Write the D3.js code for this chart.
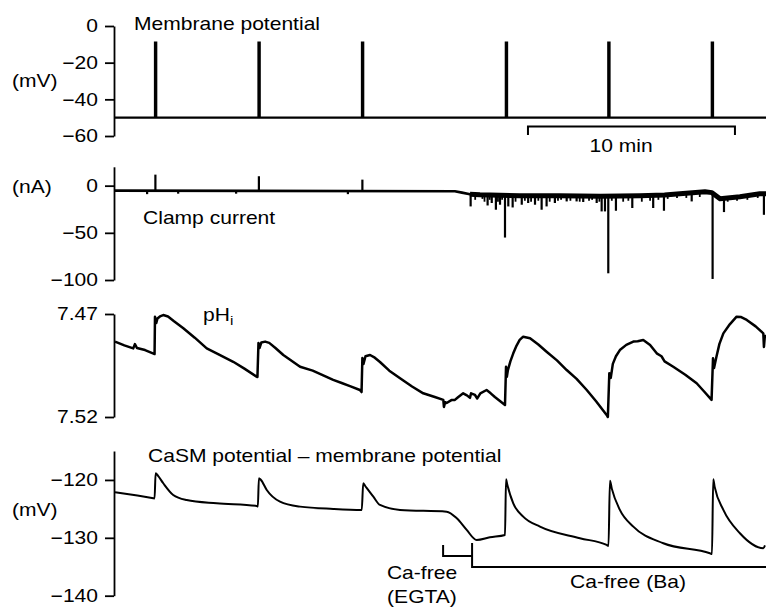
<!DOCTYPE html>
<html>
<head>
<meta charset="utf-8">
<script src="https://cdn.jsdelivr.net/npm/d3@7"></script>
<style>
  body { margin: 0; background: #fff; }
  text { font-family: Arial, "Liberation Sans", sans-serif; font-size: 18px; fill: #000; }
  .trace { fill: none; stroke: #000; stroke-width: 2; stroke-linejoin: round; }
  .axis path, .axis line { stroke: #000; stroke-width: 1.8; }
</style>
</head>
<body>
<svg id="chart" width="766" height="608"></svg>
<script>
// time in minutes
var spikeTimes = [2.0, 7.0, 12.0, 18.95, 23.9, 28.9];
var vmRest = -50, vmPeak = -9;

// clamp current (nA): baseline [t, v], transients [t, v]
var clampBase = [[0,-5.3],[16.47,-5.9],[16.81,-7.4],[17.2,-9.0],[17.68,-9.6],[19.6,-10.6],[21.5,-10.6],
  [23.5,-11.2],[25.4,-10.6],[26.6,-9.8],[27.34,-8.5],[28.55,-6.4],[28.89,-7.4],[29.28,-13.8],[30.24,-11.7],
  [31.2,-8.5],[31.5,-8.5]];
var noisyFrom = 17.1;
var clampUp = [[2.0,11.7],[7.0,10],[12.0,6.4]];
var clampDips = [[1.6,-9],[3.1,-8.5],[5.9,-8.5],[11.3,-9],
  [17.23,-22],[18.05,-21],[18.25,-18.4],[18.45,-25.5],[18.65,-20.2],[18.89,-55],[19.05,-22],[19.26,-23.1],
  [19.7,-20.2],[20.01,-18.4],[20.34,-20.2],[20.66,-25.5],[20.9,-22],[21.3,-18.4],[21.87,-16.7],[22.35,-16.7],
  [22.67,-17.3],[23.32,-18.4],[23.56,-27.3],[23.72,-27.3],[23.88,-92.9],[24.25,-26.6],[25.04,-23.7],
  [26.05,-23.7],[26.57,-26.6],[27.91,-16.7],[28.92,-98.9],[29.47,-28],[31.4,-30.9]];
var clampNoise = [[17.45,-15],[17.8,-14],[17.9,-17],[18.15,-15],[18.55,-17],[18.75,-15],
  [19.4,-17],[19.85,-16],[20.15,-17],[20.5,-16],[21.05,-17],[21.45,-16],[21.6,-15],[22.05,-16],
  [22.5,-17],[22.95,-16],[23.1,-15],[23.45,-17],[24.05,-16],[24.6,-17],[24.85,-16],[25.5,-17],
  [25.9,-16],[26.3,-15],[26.75,-14],[27.2,-13],[27.65,-13],[28.3,-12],[29.65,-17],[30.1,-16],
  [30.6,-15],[31.1,-13]];

// intracellular pH
var phData = [[0.05,7.4834],[0.5,7.4852],[0.93,7.4867],[1.01,7.4846],[1.11,7.4865],[1.5,7.4875],[1.88,7.4891],
  [1.96,7.4894],[1.98,7.4713],[2.04,7.4744],[2.1,7.4722],[2.22,7.4712],[2.38,7.4705],[2.61,7.4712],[2.9,7.4735],
  [3.35,7.4769],[3.9,7.4815],[4.48,7.4867],[5.1,7.4898],[5.76,7.4932],[6.3,7.4965],[6.89,7.5004],
  [6.93,7.5006],[6.98,7.4841],[7.03,7.4865],[7.12,7.4838],[7.3,7.4834],[7.5,7.4840],[7.8,7.4865],[8.18,7.4899],
  [8.99,7.4956],[9.6,7.4975],[10.59,7.5020],[11.0,7.5035],[11.4,7.5050],[11.88,7.5069],[11.96,7.5079],
  [12.0,7.4914],[12.05,7.4943],[12.15,7.4905],[12.37,7.4899],[12.6,7.4912],[12.85,7.4933],[13.3,7.4975],
  [13.82,7.5012],[14.4,7.5052],[14.94,7.5085],[15.5,7.5103],[15.91,7.5117],[15.94,7.5151],[16.0,7.5128],
  [16.07,7.5132],[16.3,7.5118],[16.47,7.5117],[16.62,7.5104],[16.87,7.5085],[17.05,7.5095],[17.2,7.5107],
  [17.25,7.5085],[17.44,7.5093],[17.55,7.5110],[17.7,7.5085],[18.0,7.5069],[18.2,7.5085],[18.4,7.5103],
  [18.89,7.5142],[18.94,7.4956],[18.98,7.5005],[19.03,7.4972],[19.15,7.4930],[19.29,7.4891],[19.45,7.4853],
  [19.6,7.4826],[19.77,7.4810],[20.1,7.4818],[20.5,7.4848],[20.9,7.4883],[21.4,7.4925],[21.87,7.4972],
  [22.35,7.5015],[22.84,7.5069],[23.3,7.5125],[23.8,7.5190],[23.86,7.5200],[23.93,7.4988],[24.0,7.5010],
  [24.1,7.4942],[24.25,7.4905],[24.44,7.4875],[24.75,7.4850],[25.09,7.4834],[25.3,7.4832],[25.57,7.4826],
  [25.9,7.4850],[26.22,7.4891],[26.45,7.4905],[26.6,7.4930],[27.02,7.4956],[27.6,7.4995],[28.15,7.5036],
  [28.5,7.5075],[28.87,7.5117],[28.94,7.4915],[28.99,7.4962],[29.1,7.4910],[29.25,7.4845],[29.44,7.4794],
  [29.75,7.4750],[30.08,7.4713],[30.3,7.4715],[30.57,7.4729],[31.0,7.4760],[31.37,7.4794],[31.4,7.4860],
  [31.45,7.4800]];

// CaSM potential - membrane potential (mV)
var casmData = [[0.05,-122.13],[1.9,-123.16],[1.96,-123.2],[2.01,-118.84],[2.13,-119.3],[2.38,-120.57],
  [2.86,-122.59],[3.51,-123.46],[4.96,-124.03],[6.89,-124.49],[6.95,-124.6],[7.0,-119.71],[7.1,-120.0],
  [7.38,-121.73],[8.02,-123.75],[8.99,-124.61],[10.59,-125.01],[11.97,-125.18],[12.04,-120.57],[12.13,-121.0],
  [12.53,-122.89],[12.85,-124.32],[13.82,-125.18],[16.07,-125.48],[16.56,-126.62],[17.04,-128.64],
  [17.52,-130.37],[18.16,-129.9],[18.89,-129.5],[18.94,-119.88],[19.0,-120.8],[19.29,-124.03],[19.77,-126.34],
  [20.58,-128.07],[22.51,-130.07],[23.8,-131.23],[23.89,-131.4],[23.96,-120.12],[24.05,-121.5],[24.44,-125.18],
  [25.09,-128.07],[26.54,-130.94],[28.79,-132.67],[28.89,-132.8],[28.95,-119.88],[29.02,-121.2],[29.44,-125.18],
  [30.24,-129.21],[31.37,-131.8],[31.45,-131.3]];

var egtaStart = 15.9, baStart = 17.3, tEnd = 31.5;
var scaleBar = [20, 30];

var sx = 1.17; // horizontal text stretch
var svg = d3.select("#chart");
var x = d3.scaleLinear().domain([0, tEnd]).range([114, 766]);

function label(txt, px, py, anchor) {
  return svg.append("text")
    .attr("transform", "translate(" + px + "," + py + ") scale(" + sx + ",1)")
    .attr("text-anchor", anchor || "start")
    .text(txt);
}

function drawAxis(y, ticks, fmt) {
  var g = svg.append("g").attr("class", "axis")
    .attr("transform", "translate(" + x(0) + ",0)")
    .call(d3.axisLeft(y).tickValues(ticks).tickSize(9).tickSizeOuter(0).tickPadding(7).tickFormat(fmt || d3.format("d")));
  g.selectAll("text")
    .attr("x", -16 / sx)
    .attr("transform", "scale(" + sx + ",1)")
    .style("font-size", "18px")
    .style("font-family", "Arial, 'Liberation Sans', sans-serif");
  g.select(".domain").attr("fill", "none");
  return g;
}

// ---- panel 1: membrane potential
var y1 = d3.scaleLinear().domain([-60, 0]).range([136, 26]);
drawAxis(y1, [0, -20, -40, -60]);
var vm = [[0, vmRest]];
spikeTimes.forEach(function(t) {
  vm.push([t - 0.02, vmRest], [t - 0.02, vmPeak], [t + 0.04, vmPeak], [t + 0.04, vmRest]);
});
vm.push([tEnd, vmRest]);
svg.append("path").attr("class", "trace")
  .attr("d", d3.line().x(function(d){ return x(d[0]); }).y(function(d){ return y1(d[1]); })(vm))
  .style("stroke-width", 2.2).style("stroke-linejoin", "miter");
label("Membrane potential", 134, 30);
label("(mV)", 12, 87);

// scale bar
svg.append("path").attr("fill", "none").attr("stroke", "#000").attr("stroke-width", 2)
  .attr("d", "M" + x(scaleBar[0]) + ",135V126.5H" + x(scaleBar[1]) + "V135");
label("10 min", 621, 151.5, "middle");

// ---- panel 2: clamp current
var y2 = d3.scaleLinear().domain([-100, 20]).range([280, 166.8]);
drawAxis(y2, [0, -50, -100]);
var base = d3.scaleLinear().domain(clampBase.map(function(d){ return d[0]; }))
  .range(clampBase.map(function(d){ return d[1]; }));
var clampLine = d3.line().x(function(d){ return x(d[0]); }).y(function(d){ return y2(d[1]); });
svg.append("path").attr("class", "trace").attr("d", clampLine(clampBase)).style("stroke-width", 2.6);
svg.append("path").attr("class", "trace")
  .attr("d", clampLine(clampBase.filter(function(d){ return d[0] >= noisyFrom; })))
  .style("stroke-width", 5);
svg.selectAll(".noise").data(clampNoise).enter().append("line")
  .attr("x1", function(d){ return x(d[0]); }).attr("x2", function(d){ return x(d[0]); })
  .attr("y1", function(d){ return y2(base(d[0])); }).attr("y2", function(d){ return y2(d[1]); })
  .attr("stroke", "#000").attr("stroke-width", 1.8);
svg.selectAll(".dip").data(clampDips.concat(clampUp)).enter().append("line")
  .attr("x1", function(d){ return x(d[0]); }).attr("x2", function(d){ return x(d[0]); })
  .attr("y1", function(d){ return y2(base(d[0])); }).attr("y2", function(d){ return y2(d[1]); })
  .attr("stroke", "#000").attr("stroke-width", 2.2);
label("Clamp current", 143, 224);
label("(nA)", 12, 193);

// ---- panel 3: pHi
var y3 = d3.scaleLinear().domain([7.47, 7.52]).range([314, 417]);
drawAxis(y3, [7.47, 7.52], d3.format(".2f"));
svg.append("path").attr("class", "trace")
  .attr("d", d3.line().x(function(d){ return x(d[0]); }).y(function(d){ return y3(d[1]); })(phData))
  .style("stroke-width", 2.5);
var ph = label("pH", 203, 321);
ph.append("tspan").attr("dy", 4).style("font-size", "13px").text("i");

// ---- panel 4: CaSM potential - membrane potential
var y4 = d3.scaleLinear().domain([-140, -115]).range([595.7, 451]);
drawAxis(y4, [-120, -130, -140]);
svg.append("path").attr("class", "trace")
  .attr("d", d3.line().curve(d3.curveMonotoneX).x(function(d){ return x(d[0]); }).y(function(d){ return y4(d[1]); })(casmData));
label("CaSM potential \u2013 membrane potential", 148, 462);
label("(mV)", 12, 516);

// solution bars
svg.append("path").attr("fill", "none").attr("stroke", "#000").attr("stroke-width", 2)
  .attr("d", "M" + x(egtaStart) + ",545V556H" + x(baStart));
svg.append("path").attr("fill", "none").attr("stroke", "#000").attr("stroke-width", 2)
  .attr("d", "M" + x(baStart) + ",543V567H" + x(tEnd));
label("Ca-free", 422, 579, "middle");
label("(EGTA)", 422, 603, "middle");
label("Ca-free (Ba)", 628, 588, "middle");
</script>
</body>
</html>
